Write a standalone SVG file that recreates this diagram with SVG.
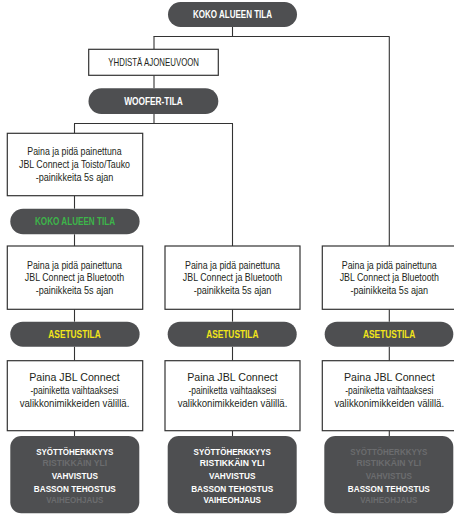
<svg xmlns="http://www.w3.org/2000/svg" width="454" height="515" viewBox="0 0 454 515">
<style>
.pill{fill:#4e4f51}
.box{fill:#fff;stroke:#333;stroke-width:1.2}
.menu{fill:#4e4f51}
.lines line{stroke:#333;stroke-width:1.1}
text{font-family:"Liberation Sans",Arial,sans-serif;text-anchor:middle}
.pt{font-size:10.8px;font-weight:bold;fill:#fff}
.bt{font-size:10.5px;fill:#231f20}
.mt{font-size:9.8px;font-weight:bold}
.on{fill:#fff}
.off{fill:#6b6c6e}
.g{fill:#3db54a}
.y{fill:#f2e61a}
</style>
<rect width="454" height="515" fill="#fff"/>
<g id="connectors" class="lines">
<line x1="232.5" y1="27" x2="232.5" y2="36.5"/>
<line x1="153.5" y1="36.5" x2="389.5" y2="36.5"/>
<line x1="154" y1="36.5" x2="154" y2="49.3"/>
<line x1="154" y1="75.3" x2="154" y2="88.3"/>
<line x1="154" y1="114" x2="154" y2="123.5"/>
<line x1="74" y1="123.5" x2="233" y2="123.5"/>
<line x1="74.5" y1="123.5" x2="74.5" y2="133.3"/>
<line x1="74.5" y1="195.7" x2="74.5" y2="208.7"/>
<line x1="74.5" y1="234.3" x2="74.5" y2="246"/>
<line x1="232.5" y1="123.5" x2="232.5" y2="246"/>
<line x1="389.3" y1="36.5" x2="389.3" y2="246"/>
<line x1="74.5" y1="309.3" x2="74.5" y2="321.7"/>
<line x1="232.5" y1="309.3" x2="232.5" y2="321.7"/>
<line x1="389.3" y1="309.3" x2="389.3" y2="321.7"/>
<line x1="74.5" y1="346.7" x2="74.5" y2="360.7"/>
<line x1="232.5" y1="346.7" x2="232.5" y2="360.7"/>
<line x1="389.3" y1="346.7" x2="389.3" y2="360.7"/>
<line x1="74.5" y1="430.7" x2="74.5" y2="436"/>
<line x1="232.5" y1="430.7" x2="232.5" y2="436"/>
<line x1="389.3" y1="430.7" x2="389.3" y2="436"/>
</g>
<g id="top-koko">
<rect class="pill" x="168" y="2" width="129" height="25" rx="12.5"/>
<text class="pt" x="232.5" y="18.2" textLength="79" lengthAdjust="spacingAndGlyphs">KOKO ALUEEN TILA</text>
</g>
<g id="yhdista">
<rect class="box" x="88.7" y="49.3" width="129.6" height="26"/>
<text class="bt" x="153.7" y="65.8" textLength="90.7" lengthAdjust="spacingAndGlyphs">YHDISTÄ AJONEUVOON</text>
</g>
<g id="woofer">
<rect class="pill" x="88.5" y="88.3" width="129.8" height="25.7" rx="12.8"/>
<text class="pt" x="153.5" y="104.8" textLength="58.7" lengthAdjust="spacingAndGlyphs">WOOFER-TILA</text>
</g>
<g id="press-toisto">
<rect class="box" x="7.3" y="133.3" width="135.4" height="62.4"/>
<text class="bt" x="74.5" y="154.8" textLength="94.3" lengthAdjust="spacingAndGlyphs">Paina ja pidä painettuna</text>
<text class="bt" x="74.5" y="168" textLength="111" lengthAdjust="spacingAndGlyphs">JBL Connect ja Toisto/Tauko</text>
<text class="bt" x="74.5" y="181" textLength="77.7" lengthAdjust="spacingAndGlyphs">-painikkeita 5s ajan</text>
</g>
<g id="koko-green">
<rect class="pill" x="10.3" y="208.7" width="129.3" height="25.6" rx="12.8"/>
<text class="pt g" x="75" y="225.2" textLength="80" lengthAdjust="spacingAndGlyphs">KOKO ALUEEN TILA</text>
</g>
<g id="press-bt-1">
<rect class="box" x="7.3" y="246" width="135.4" height="63.3"/>
<text class="bt" x="74.5" y="268.7" textLength="95" lengthAdjust="spacingAndGlyphs">Paina ja pidä painettuna</text>
<text class="bt" x="74.5" y="281.2" textLength="99.3" lengthAdjust="spacingAndGlyphs">JBL Connect ja Bluetooth</text>
<text class="bt" x="74.5" y="293.7" textLength="77.7" lengthAdjust="spacingAndGlyphs">-painikkeita 5s ajan</text>
</g>
<g id="press-bt-2">
<rect class="box" x="165" y="246" width="135" height="63.3"/>
<text class="bt" x="232.5" y="268.7" textLength="95" lengthAdjust="spacingAndGlyphs">Paina ja pidä painettuna</text>
<text class="bt" x="232.5" y="281.2" textLength="99.3" lengthAdjust="spacingAndGlyphs">JBL Connect ja Bluetooth</text>
<text class="bt" x="232.5" y="293.7" textLength="77.7" lengthAdjust="spacingAndGlyphs">-painikkeita 5s ajan</text>
</g>
<g id="press-bt-3">
<rect class="box" x="322.3" y="246" width="135" height="63.3"/>
<text class="bt" x="389.3" y="268.7" textLength="95" lengthAdjust="spacingAndGlyphs">Paina ja pidä painettuna</text>
<text class="bt" x="389.3" y="281.2" textLength="99.3" lengthAdjust="spacingAndGlyphs">JBL Connect ja Bluetooth</text>
<text class="bt" x="389.3" y="293.7" textLength="77.7" lengthAdjust="spacingAndGlyphs">-painikkeita 5s ajan</text>
</g>
<g id="asetus-1">
<rect class="pill" x="10.3" y="321.7" width="129.3" height="25" rx="12.5"/>
<text class="pt y" x="74.5" y="337.9" textLength="52.3" lengthAdjust="spacingAndGlyphs">ASETUSTILA</text>
</g>
<g id="asetus-2">
<rect class="pill" x="167.7" y="321.7" width="129" height="25" rx="12.5"/>
<text class="pt y" x="232.3" y="337.9" textLength="52.3" lengthAdjust="spacingAndGlyphs">ASETUSTILA</text>
</g>
<g id="asetus-3">
<rect class="pill" x="324.7" y="321.7" width="128.6" height="25" rx="12.5"/>
<text class="pt y" x="389.2" y="337.9" textLength="52.3" lengthAdjust="spacingAndGlyphs">ASETUSTILA</text>
</g>
<g id="cycle-1">
<rect class="box" x="7.3" y="360.7" width="135.4" height="70"/>
<text class="bt" x="74.5" y="381" textLength="90.7" lengthAdjust="spacingAndGlyphs">Paina JBL Connect</text>
<text class="bt" x="74.5" y="394.2" textLength="88" lengthAdjust="spacingAndGlyphs">-painiketta vaihtaaksesi</text>
<text class="bt" x="74.5" y="407" textLength="109.7" lengthAdjust="spacingAndGlyphs">valikkonimikkeiden välillä.</text>
</g>
<g id="cycle-2">
<rect class="box" x="165" y="360.7" width="135" height="70"/>
<text class="bt" x="232.5" y="381" textLength="90.7" lengthAdjust="spacingAndGlyphs">Paina JBL Connect</text>
<text class="bt" x="232.5" y="394.2" textLength="88" lengthAdjust="spacingAndGlyphs">-painiketta vaihtaaksesi</text>
<text class="bt" x="232.5" y="407" textLength="109.7" lengthAdjust="spacingAndGlyphs">valikkonimikkeiden välillä.</text>
</g>
<g id="cycle-3">
<rect class="box" x="322.3" y="360.7" width="135" height="70"/>
<text class="bt" x="389.3" y="381" textLength="90.7" lengthAdjust="spacingAndGlyphs">Paina JBL Connect</text>
<text class="bt" x="389.3" y="394.2" textLength="88" lengthAdjust="spacingAndGlyphs">-painiketta vaihtaaksesi</text>
<text class="bt" x="389.3" y="407" textLength="109.7" lengthAdjust="spacingAndGlyphs">valikkonimikkeiden välillä.</text>
</g>
<g id="menu-1">
<rect class="menu" x="10.3" y="436" width="129" height="77.3" rx="11"/>
<text class="mt on" x="74.8" y="454.5" textLength="77.3" lengthAdjust="spacingAndGlyphs">SYÖTTÖHERKKYYS</text>
<text class="mt off" x="74.8" y="466.3" textLength="64.7" lengthAdjust="spacingAndGlyphs">RISTIKKÄIN YLI</text>
<text class="mt on" x="74.8" y="478.8" textLength="46.3" lengthAdjust="spacingAndGlyphs">VAHVISTUS</text>
<text class="mt on" x="74.8" y="491.7" textLength="82" lengthAdjust="spacingAndGlyphs">BASSON TEHOSTUS</text>
<text class="mt off" x="74.8" y="502.9" textLength="57.3" lengthAdjust="spacingAndGlyphs">VAIHEOHJAUS</text>
</g>
<g id="menu-2">
<rect class="menu" x="167.7" y="436" width="129" height="77.3" rx="11"/>
<text class="mt on" x="232.2" y="454.5" textLength="77.3" lengthAdjust="spacingAndGlyphs">SYÖTTÖHERKKYYS</text>
<text class="mt on" x="232.2" y="466.3" textLength="64.7" lengthAdjust="spacingAndGlyphs">RISTIKKÄIN YLI</text>
<text class="mt on" x="232.2" y="478.8" textLength="46.3" lengthAdjust="spacingAndGlyphs">VAHVISTUS</text>
<text class="mt on" x="232.2" y="491.7" textLength="82" lengthAdjust="spacingAndGlyphs">BASSON TEHOSTUS</text>
<text class="mt on" x="232.2" y="502.9" textLength="57.3" lengthAdjust="spacingAndGlyphs">VAIHEOHJAUS</text>
</g>
<g id="menu-3">
<rect class="menu" x="324.3" y="436" width="129" height="77.3" rx="11"/>
<text class="mt off" x="388.8" y="454.5" textLength="77.3" lengthAdjust="spacingAndGlyphs">SYÖTTÖHERKKYYS</text>
<text class="mt off" x="388.8" y="466.3" textLength="64.7" lengthAdjust="spacingAndGlyphs">RISTIKKÄIN YLI</text>
<text class="mt off" x="388.8" y="478.8" textLength="46.3" lengthAdjust="spacingAndGlyphs">VAHVISTUS</text>
<text class="mt on" x="388.8" y="491.7" textLength="82" lengthAdjust="spacingAndGlyphs">BASSON TEHOSTUS</text>
<text class="mt off" x="388.8" y="502.9" textLength="57.3" lengthAdjust="spacingAndGlyphs">VAIHEOHJAUS</text>
</g>
</svg>
